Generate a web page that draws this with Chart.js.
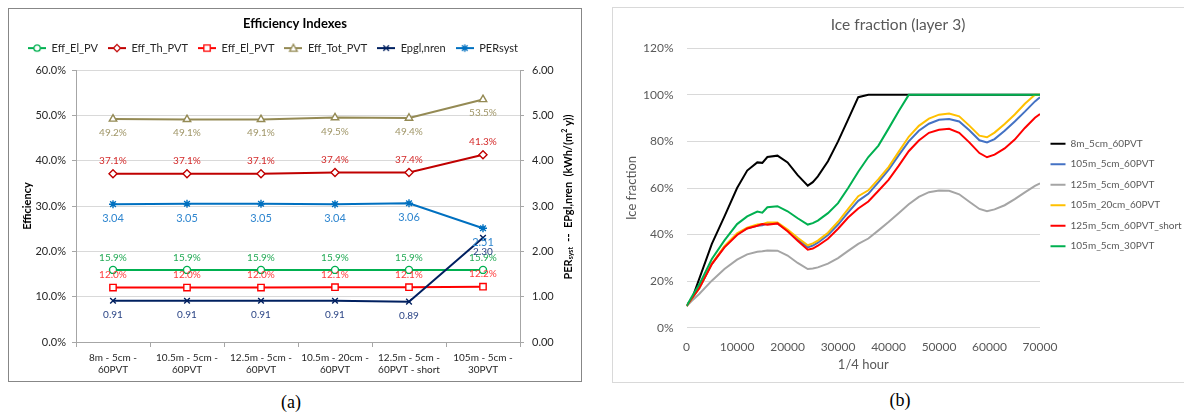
<!DOCTYPE html>
<html>
<head>
<meta charset="utf-8">
<script src="https://cdn.jsdelivr.net/npm/chart.js@4/dist/chart.umd.min.js"></script>
<style>
  body { margin: 0; background: #fff; width: 1184px; height: 412px; overflow: hidden; position: relative; font-family: Lato, sans-serif; }
  .frame { position: absolute; box-sizing: border-box; }
  #frameA { left: 8px; top: 8px; width: 574px; height: 374px; border: 1px solid #878787; }
  #frameB { left: 612px; top: 7px; width: 580px; height: 376px; border: 1px solid #d9d9d9; }
  canvas { display: block; }
  .caption { position: absolute; width: 100px; text-align: center; font-family: 'Liberation Serif', serif; font-size: 18px; line-height: 22px; color: #000; }
</style>
</head>
<body>
<div class="frame" id="frameA"><canvas id="effChart" width="572" height="372"></canvas></div>
<div class="frame" id="frameB"><canvas id="iceChart" width="570" height="374"></canvas></div>
<div class="caption" style="left:241px; top:391px;">(a)</div>
<div class="caption" style="left:850px; top:389px;">(b)</div>
<script>
// ---- (a) Efficiency indexes ----
const categories = [
    ['8m - 5cm -', '60PVT'],
    ['10.5m - 5cm -', '60PVT'],
    ['12.5m - 5cm -', '60PVT'],
    ['10.5m - 20cm -', '60PVT'],
    ['12.5m - 5cm -', '60PVT - short'],
    ['105m - 5cm -', '30PVT']
];
const effElPV = [15.9, 15.9, 15.9, 15.9, 15.9, 15.9];
const effThPVT = [37.1, 37.1, 37.1, 37.4, 37.4, 41.3];
const effElPVT = [12.0, 12.0, 12.0, 12.1, 12.1, 12.2];
const effTotPVT = [49.2, 49.1, 49.1, 49.5, 49.4, 53.5];
const epglNren = [0.91, 0.91, 0.91, 0.91, 0.89, 2.30];
const perSyst = [3.04, 3.05, 3.05, 3.04, 3.06, 2.51];
const effTicks = [0, 10, 20, 30, 40, 50, 60];

// ---- (b) Ice fraction (layer 3) ----
const hours = [0, 1000, 2500, 5000, 7500, 10000, 12000, 14000, 15000, 16000, 18000, 20000, 22000, 24000,
    25000, 26000, 28000, 30000, 32000, 34000, 36000, 38000, 40000, 42000, 44000, 46000, 48000, 50000,
    52000, 54000, 56000, 58000, 59500, 61000, 63000, 65000, 67000, 69000, 70000];
const ice8m60 = [9.5, 12, 21, 36, 47.8, 60, 67.5, 71, 70.8, 73.3, 73.9, 71, 65.5, 61,
    62.5, 65, 71.5, 80, 89.5, 99, 100, 100, 100, 100, 100, 100, 100, 100,
    100, 100, 100, 100, 100, 100, 100, 100, 100, 100, 100];
const ice105m60 = [9.3, 12.5, 17, 27.3, 34.8, 40.2, 42.7, 43.8, 44, 44.8, 44.8, 41.7, 38, 34.5,
    35.3, 36.5, 39.8, 44.3, 49.5, 54.5, 57.5, 62.5, 67.8, 74, 80, 84.6, 87.6, 89.3,
    89.6, 88.6, 84.8, 80.5, 79.6, 81, 84.6, 88.6, 92.8, 97.2, 99];
const ice125m60 = [9.3, 11.5, 14.5, 20.2, 25.2, 29.2, 31.5, 32.6, 32.8, 33.2, 33.1, 31, 27.8, 25.2,
    25.4, 25.9, 27.5, 29.9, 33, 36, 38.3, 41.8, 45.4, 49.2, 53, 56.2, 58.2, 58.9,
    58.8, 57.3, 54.1, 51, 50, 50.8, 52.6, 55.2, 58.1, 60.9, 62];
const ice105m20cm = [9.3, 12.5, 17, 27.5, 35, 40.5, 43, 44.3, 44.5, 45.2, 45.2, 42.2, 38.6, 35.4,
    36.2, 37.4, 40.8, 45.5, 51, 56.5, 59, 63.8, 69, 75.5, 82, 86.7, 89.8, 91.5,
    92, 90.8, 86.8, 82.5, 81.8, 83.8, 87.5, 91.6, 96.2, 100, 100];
const ice125mShort = [9.3, 12.5, 17, 27.3, 34.5, 39.8, 42.6, 43.8, 44.5, 44.2, 44.8, 41.4, 37.3, 33.5,
    34, 35.2, 38.2, 42.5, 47.3, 51.2, 54.2, 58.8, 63.5, 69.5, 75.8, 80.4, 83.7, 85,
    85.4, 83.7, 79.6, 75, 73.2, 74.3, 77, 80.8, 85.8, 90.2, 91.8];
const ice105m30 = [9.3, 13.2, 18.5, 29.5, 37.5, 44.5, 47.8, 49.9, 49.4, 51.7, 52.2, 50, 47, 44.3,
    44.9, 46, 49.2, 53.5, 60, 67, 73.3, 78.2, 85.5, 93, 100, 100, 100, 100,
    100, 100, 100, 100, 100, 100, 100, 100, 100, 100, 100];
const iceNames = ['8m_5cm_60PVT', '105m_5cm_60PVT', '125m_5cm_60PVT', '105m_20cm_60PVT', '125m_5cm_60PVT_short', '105m_5cm_30PVT'];
const iceColors = ['#000000', '#4472C4', '#A5A5A5', '#FFC000', '#FF0000', '#00B050'];
const iceValues = [ice8m60, ice105m60, ice125m60, ice105m20cm, ice125mShort, ice105m30];

Chart.defaults.font.family = 'Lato, sans-serif';

// Excel-like legend key: short line with the marker in the middle
function legendIcon(color, marker) {
    const c = document.createElement('canvas');
    c.width = 18;
    c.height = 10;
    const g = c.getContext('2d');
    g.strokeStyle = color;
    g.lineWidth = 2;
    g.beginPath();
    g.moveTo(0, 5);
    g.lineTo(18, 5);
    g.stroke();
    g.lineWidth = 1.3;
    g.fillStyle = '#fff';
    g.beginPath();
    if (marker === 'circle') {
        g.arc(9, 5, 3.2, 0, Math.PI * 2);
        g.fill(); g.stroke();
    } else if (marker === 'rect') {
        g.rect(5.8, 1.8, 6.4, 6.4);
        g.fill(); g.stroke();
    } else if (marker === 'rectRot') {
        g.moveTo(9, 1.4); g.lineTo(12.6, 5); g.lineTo(9, 8.6); g.lineTo(5.4, 5); g.closePath();
        g.fill(); g.stroke();
    } else if (marker === 'triangle') {
        g.moveTo(9, 1.2); g.lineTo(12.8, 8.2); g.lineTo(5.2, 8.2); g.closePath();
        g.fill(); g.stroke();
    } else {
        g.moveTo(6.2, 2.2); g.lineTo(11.8, 7.8);
        g.moveTo(11.8, 2.2); g.lineTo(6.2, 7.8);
        if (marker === 'star') { g.moveTo(9, 1.2); g.lineTo(9, 8.8); }
        g.stroke();
    }
    return c;
}

function legendFit(fn) {
    return {
        id: 'legendFit',
        beforeInit(chart) {
            const fit = chart.legend.fit;
            chart.legend.fit = function () {
                fit.call(this);
                fn(this);
            };
        }
    };
}

const valueLabels = {
    id: 'valueLabels',
    afterDatasetsDraw(chart) {
        const ctx = chart.ctx;
        chart.data.datasets.forEach((ds, i) => {
            const meta = chart.getDatasetMeta(i);
            ctx.save();
            ctx.font = ds.labelFont;
            ctx.fillStyle = ds.labelColor;
            ctx.textAlign = 'center';
            ctx.textBaseline = 'middle';
            meta.data.forEach((pt, j) => {
                ctx.fillText(ds.labelFormat(ds.data[j]), pt.x, pt.y + ds.labelShift);
            });
            ctx.restore();
        });
    }
};

const rightTitle = {
    id: 'rightTitle',
    afterDraw(chart) {
        const ctx = chart.ctx;
        const axis = chart.scales.y1;
        const parts = [['PER', 11, 0], ['syst', 7, 3], ['  --  EPgl,nren  (kWh/(m', 11, 0], ['2', 7, -3], [' y))', 11, 0]];
        ctx.save();
        ctx.translate(axis.right - 13, (chart.chartArea.top + chart.chartArea.bottom) / 2 - 9);
        ctx.rotate(-Math.PI / 2);
        ctx.fillStyle = '#000';
        ctx.textBaseline = 'middle';
        let total = 0;
        parts.forEach(p => {
            ctx.font = 'bold ' + p[1] + 'px Lato';
            total += ctx.measureText(p[0]).width;
        });
        let x = -total / 2;
        parts.forEach(p => {
            ctx.font = 'bold ' + p[1] + 'px Lato';
            ctx.fillText(p[0], x, p[2]);
            x += ctx.measureText(p[0]).width;
        });
        ctx.restore();
    }
};

const pct = v => v.toFixed(1) + '%';
const num = v => v.toFixed(2);

const effSeries = [
    {label: 'Eff_El_PV', data: effElPV, color: '#00B050', marker: 'circle', radius: 3.5, axis: 'y', labelColor: '#22aa55', labelFont: '10px Lato', labelShift: -12.5, fmt: pct},
    {label: 'Eff_Th_PVT', data: effThPVT, color: '#C00000', marker: 'rectRot', radius: 4, axis: 'y', labelColor: '#d42a2a', labelFont: '10px Lato', labelShift: -13, fmt: pct},
    {label: 'Eff_El_PVT', data: effElPVT, color: '#FF0000', marker: 'rect', radius: 4.5, axis: 'y', labelColor: '#ff3b3b', labelFont: '10px Lato', labelShift: -12.6, fmt: pct},
    {label: 'Eff_Tot_PVT', data: effTotPVT, color: '#948A54', marker: 'triangle', radius: 4.3, axis: 'y', labelColor: '#a09668', labelFont: '10px Lato', labelShift: 13.7, fmt: pct},
    {label: 'Epgl,nren', data: epglNren, color: '#002060', marker: 'crossRot', radius: 4, axis: 'y1', labelColor: '#2b4586', labelFont: '10px Lato', labelShift: 14, fmt: num},
    {label: 'PERsyst', data: perSyst, color: '#0070C0', marker: 'star', radius: 4, axis: 'y1', labelColor: '#2f86cf', labelFont: '11px Lato', labelShift: 14.5, fmt: num}
];
const effIcons = effSeries.map(s => legendIcon(s.color, s.marker));
const tickColor = '#262626';

new Chart(document.getElementById('effChart'), {
    type: 'line',
    data: {
        labels: categories,
        datasets: effSeries.map((s, i) => ({
            label: s.label,
            data: s.data,
            yAxisID: s.axis,
            borderColor: s.color,
            borderWidth: 2,
            pointStyle: s.marker,
            pointRadius: s.radius,
            pointBorderWidth: 1.4,
            pointBorderColor: s.color,
            pointBackgroundColor: '#fff',
            order: effSeries.length - i,
            labelColor: s.labelColor,
            labelFont: s.labelFont,
            labelShift: s.labelShift,
            labelFormat: s.fmt
        }))
    },
    options: {
        responsive: false,
        animation: false,
        layout: {padding: 0},
        plugins: {
            title: {display: true, text: 'Efficiency Indexes', color: '#000', font: {size: 13, weight: 'bold'}, padding: {top: 7, bottom: 1}},
            legend: {
                labels: {
                    usePointStyle: true,
                    pointStyleWidth: 18,
                    padding: 10,
                    color: tickColor,
                    font: {size: 11},
                    sort: (a, b) => a.datasetIndex - b.datasetIndex,
                    generateLabels(chart) {
                        const items = Chart.defaults.plugins.legend.labels.generateLabels(chart);
                        items.forEach(it => { it.pointStyle = effIcons[it.datasetIndex]; });
                        return items;
                    }
                }
            },
            tooltip: {enabled: false}
        },
        scales: {
            x: {
                offset: true,
                grid: {offset: true, drawOnChartArea: false, tickLength: 5, color: '#a6a6a6'},
                border: {color: '#a6a6a6'},
                ticks: {padding: 5, color: tickColor, font: {size: 10}, maxRotation: 0, autoSkip: false},
                afterFit: s => { s.height = 39; }
            },
            y: {
                position: 'left',
                min: 0,
                max: 60,
                afterBuildTicks: s => { s.ticks = effTicks.map(v => ({value: v})); },
                ticks: {padding: 6, color: tickColor, font: {size: 11}, callback: v => v.toFixed(1) + '%'},
                grid: {color: '#d9d9d9', tickColor: '#a6a6a6', tickLength: 4},
                border: {color: '#a6a6a6'},
                title: {display: true, text: 'Efficiency', color: '#000', font: {size: 11, weight: 'bold'}, padding: {top: 11.4, bottom: 0}},
                afterFit: s => { s.width = 67; }
            },
            y1: {
                position: 'right',
                min: 0,
                max: 6,
                ticks: {stepSize: 1, padding: 8, color: tickColor, font: {size: 11}, callback: v => v.toFixed(2)},
                grid: {drawOnChartArea: false, tickColor: '#a6a6a6', tickLength: 4},
                border: {color: '#a6a6a6'},
                afterFit: s => { s.width = 61; }
            }
        }
    },
    plugins: [
        legendFit(l => { l.height += 6.4; }),
        {id: 'legendShift', afterLayout(chart) { chart.legend.left -= 22; chart.legend.right -= 22; }},
        valueLabels,
        rightTitle
    ]
});

new Chart(document.getElementById('iceChart'), {
    type: 'line',
    data: {
        datasets: iceNames.map((name, i) => ({
            label: name,
            data: hours.map((h, j) => ({x: h, y: iceValues[i][j]})),
            borderColor: iceColors[i],
            backgroundColor: iceColors[i],
            borderWidth: 2,
            pointRadius: 0,
            tension: 0,
            order: iceNames.length - i
        }))
    },
    options: {
        responsive: false,
        animation: false,
        layout: {padding: 0},
        plugins: {
            title: {display: true, text: 'Ice fraction (layer 3)', color: '#595959', font: {size: 15.5, weight: 'normal'}, padding: {top: 8, bottom: 13.7}},
            legend: {
                position: 'right',
                labels: {
                    usePointStyle: true,
                    pointStyle: 'line',
                    pointStyleWidth: 15,
                    padding: 10.5,
                    color: '#595959',
                    font: {size: 10},
                    sort: (a, b) => a.datasetIndex - b.datasetIndex
                }
            },
            tooltip: {enabled: false}
        },
        scales: {
            x: {
                type: 'linear',
                min: 0,
                max: 70000,
                grid: {display: false, drawTicks: false, tickLength: 0},
                border: {display: false},
                ticks: {stepSize: 10000, padding: 12, color: '#595959', font: {size: 12}, callback: v => String(v)},
                title: {display: true, text: '1/4 hour', color: '#595959', font: {size: 13}, padding: {top: 0, bottom: 9.2}},
                afterFit: s => { s.height = 54.3; }
            },
            y: {
                min: 0,
                max: 120,
                grid: {color: '#d9d9d9', drawTicks: false},
                border: {display: false},
                ticks: {stepSize: 20, padding: 13, color: '#595959', font: {size: 12}, callback: v => v + '%'},
                title: {display: true, text: 'Ice fraction', color: '#595959', font: {size: 13}, padding: {top: 11.2, bottom: 0}},
                afterFit: s => { s.width = 73.6; }
            }
        }
    },
    plugins: [legendFit(l => { l.width = 143; })]
});
</script>
</body>
</html>
